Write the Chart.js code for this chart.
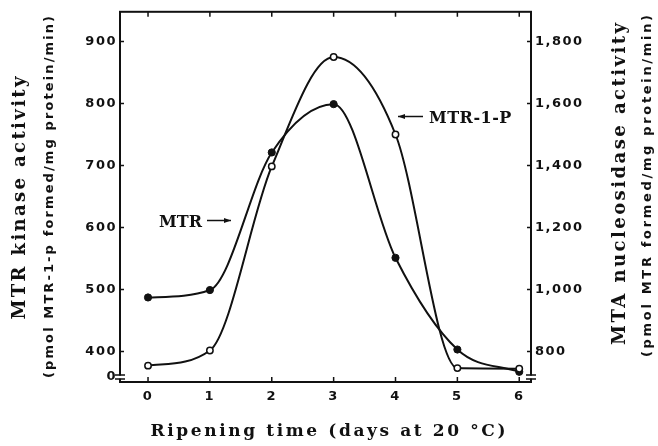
<!DOCTYPE html>
<html>
<head>
<meta charset="utf-8">
<script src="https://cdn.jsdelivr.net/npm/chart.js@4.4.0/dist/chart.umd.min.js"></script>
<style>
  html, body { margin: 0; padding: 0; background: #fff; }
</style>
</head>
<body>
<canvas id="chart" width="658" height="446"></canvas>
<script>
// data
const days = [0, 1, 2, 3, 4, 5, 6];
const mtrKinase = [487, 499, 721, 799, 551, 403, 367];          // filled circles, left axis
const mtaNucleosidase = [754, 803, 1397, 1750, 1500, 746, 744]; // open circles, right axis
const leftTicks = [400, 500, 600, 700, 800, 900];
const rightTicks = [800, 1000, 1200, 1400, 1600, 1800];
const xTicks = [0, 1, 2, 3, 4, 5, 6];
const breakValue = 358.5; // where the "0" of the broken axis sits

const ink = '#111';
const tickFont = { family: 'DejaVu Sans', weight: 'bold', size: 13 };

// draws letter-spaced text stretched to a given width
function spaced(ctx, text, cx, cy, rot, font, targetW) {
  ctx.save();
  ctx.font = font;
  ctx.letterSpacing = '0px';
  const w = ctx.measureText(text).width;
  const sp = Math.max(0, (targetW - w) / (text.length - 1));
  ctx.letterSpacing = sp + 'px';
  ctx.translate(cx, cy);
  ctx.rotate(rot);
  ctx.textAlign = 'center';
  ctx.textBaseline = 'middle';
  ctx.fillStyle = ink;
  ctx.fillText(text, sp / 2, 0);
  ctx.restore();
}

function arrow(ctx, x1, y, x2) {
  const dir = Math.sign(x2 - x1);
  ctx.beginPath();
  ctx.moveTo(x1, y);
  ctx.lineTo(x2, y);
  ctx.stroke();
  ctx.beginPath();
  ctx.moveTo(x2, y);
  ctx.lineTo(x2 - dir * 7, y - 2.5);
  ctx.lineTo(x2 - dir * 7, y + 2.5);
  ctx.closePath();
  ctx.fill();
}

const framePlugin = {
  id: 'frame',
  beforeDraw(chart) {
    chart.ctx.letterSpacing = '1.5px';
  },
  afterDraw(chart) {
    const ctx = chart.ctx;
    ctx.letterSpacing = '0px';
    const a = chart.chartArea;
    const xs = chart.scales.x, ys = chart.scales.y, y1 = chart.scales.y1;
    ctx.save();
    ctx.strokeStyle = ink;
    ctx.fillStyle = ink;
    ctx.lineWidth = 2;
    ctx.strokeRect(a.left, a.top, a.right - a.left, a.bottom - a.top);

    // inward tick marks
    ctx.lineWidth = 1.5;
    ctx.beginPath();
    xTicks.forEach(v => {
      const px = xs.getPixelForValue(v);
      ctx.moveTo(px, a.bottom); ctx.lineTo(px, a.bottom - 5);
      ctx.moveTo(px, a.top); ctx.lineTo(px, a.top + 5);
    });
    leftTicks.forEach(v => {
      const py = ys.getPixelForValue(v);
      ctx.moveTo(a.left, py); ctx.lineTo(a.left + 4, py);
    });
    rightTicks.forEach(v => {
      const py = y1.getPixelForValue(v);
      ctx.moveTo(a.right, py); ctx.lineTo(a.right - 4, py);
    });
    ctx.stroke();

    // axis break marks
    const by = ys.getPixelForValue(breakValue);
    [a.left, a.right].forEach(bx => {
      ctx.fillStyle = '#fff';
      ctx.fillRect(bx - 2, by - 1.5, 4, 3);
      ctx.beginPath();
      ctx.moveTo(bx - 5, by - 2); ctx.lineTo(bx + 5, by - 2);
      ctx.moveTo(bx - 5, by + 2); ctx.lineTo(bx + 5, by + 2);
      ctx.stroke();
    });

    // axis titles
    const serif = 'bold 18px "DejaVu Serif"';
    const sans = 'bold 13px "DejaVu Sans"';
    spaced(ctx, 'MTR kinase activity', 20, 198, -Math.PI / 2, serif, 243);
    spaced(ctx, '(pmol MTR-1-p formed/mg protein/min)', 50, 197, -Math.PI / 2, sans, 362);
    spaced(ctx, 'MTA nucleosidase activity', 620, 184, -Math.PI / 2, serif, 322);
    spaced(ctx, '(pmol MTR formed/mg protein/min)', 648, 186, -Math.PI / 2, sans, 342);
    spaced(ctx, 'Ripening time (days at 20 °C)', 328, 432, 0, 'bold 17px "DejaVu Serif"', 355);

    // curve labels
    ctx.fillStyle = ink;
    ctx.font = 'bold 16px "DejaVu Serif"';
    ctx.textBaseline = 'alphabetic';
    ctx.textAlign = 'right';
    ctx.fillText('MTR', 202, 227);
    ctx.textAlign = 'left';
    ctx.letterSpacing = '0.5px';
    ctx.fillText('MTR-1-P', 429, 123);
    ctx.letterSpacing = '0px';
    ctx.lineWidth = 1.5;
    arrow(ctx, 207, 220.5, 231);
    arrow(ctx, 423, 116.5, 398);
    ctx.restore();
  }
};

new Chart(document.getElementById('chart'), {
  type: 'line',
  data: {
    datasets: [
      {
        label: 'MTR-1-P',
        yAxisID: 'y1',
        data: days.map((d, i) => ({ x: d, y: mtaNucleosidase[i] })),
        borderColor: ink,
        borderWidth: 2,
        cubicInterpolationMode: 'monotone',
        pointRadius: 3.2,
        pointBackgroundColor: '#fff',
        pointBorderColor: ink,
        pointBorderWidth: 1.5
      },
      {
        label: 'MTR',
        yAxisID: 'y',
        data: days.map((d, i) => ({ x: d, y: mtrKinase[i] })),
        borderColor: ink,
        borderWidth: 2,
        cubicInterpolationMode: 'monotone',
        pointRadius: 3.6,
        pointBackgroundColor: ink,
        pointBorderColor: ink,
        pointBorderWidth: 1
      }
    ]
  },
  options: {
    responsive: false,
    animation: false,
    devicePixelRatio: 1,
    layout: { padding: { top: 10, left: 0, right: 0, bottom: 0 } },
    plugins: { legend: { display: false }, tooltip: { enabled: false } },
    scales: {
      x: {
        type: 'linear',
        min: -0.453,
        max: 6.19,
        afterBuildTicks: s => { s.ticks = xTicks.map(v => ({ value: v })); },
        afterFit: s => { s.height = 64; },
        grid: { display: false, drawTicks: false },
        border: { display: false },
        ticks: { color: ink, font: tickFont, padding: 7 }
      },
      y: {
        position: 'left',
        min: 350.6,
        max: 948,
        afterBuildTicks: s => { s.ticks = [breakValue, ...leftTicks].map(v => ({ value: v })); },
        afterFit: s => { s.width = 120; },
        grid: { display: false, drawTicks: false },
        border: { display: false },
        ticks: {
          color: ink, font: tickFont, padding: 3,
          callback: v => (v === breakValue ? '0' : String(v))
        }
      },
      y1: {
        position: 'right',
        min: 701.2,
        max: 1896,
        afterBuildTicks: s => { s.ticks = rightTicks.map(v => ({ value: v })); },
        afterFit: s => { s.width = 127; },
        grid: { display: false, drawTicks: false },
        border: { display: false },
        ticks: {
          color: ink, font: tickFont, padding: 4,
          callback: v => v.toLocaleString('en-US')
        }
      }
    }
  },
  plugins: [framePlugin]
});
</script>
</body>
</html>
